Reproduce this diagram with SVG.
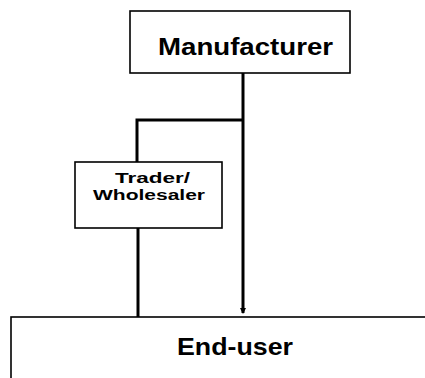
<svg xmlns="http://www.w3.org/2000/svg" width="425" height="378" viewBox="0 0 425 378">
<style>
.box{fill:#fff;stroke:#000;stroke-width:1.6}
.t{font-family:"Liberation Sans",Arial,sans-serif;font-weight:bold;fill:#000}
.c{fill:none;stroke:#000;stroke-width:3}
</style>
<defs>
<marker id="ah" markerWidth="6" markerHeight="6" refX="5" refY="3" orient="auto" markerUnits="userSpaceOnUse">
<path d="M0,0 L6,3 L0,6 z" fill="#000"/>
</marker>
</defs>
<rect width="425" height="378" fill="#fff"/>
<g id="connectors">
<polyline class="c" points="243,73 243,313" marker-end="url(#ah)"/>
<polyline class="c" points="243,120 137,120 137,162"/>
<line class="c" x1="138" y1="228" x2="138" y2="317"/>
</g>
<g id="manufacturer">
<rect class="box" x="130" y="11" width="220" height="62"/>
<text class="t" x="158" y="55" font-size="24" textLength="175" lengthAdjust="spacingAndGlyphs">Manufacturer</text>
</g>
<g id="trader">
<rect class="box" x="75" y="162" width="147" height="66"/>
<text class="t" x="115" y="183" font-size="14" textLength="75" lengthAdjust="spacingAndGlyphs">Trader/</text>
<text class="t" x="93" y="200" font-size="14" textLength="112" lengthAdjust="spacingAndGlyphs">Wholesaler</text>
</g>
<g id="enduser">
<rect class="box" x="11" y="317" width="430" height="80"/>
<text class="t" x="177" y="355" font-size="24" textLength="116" lengthAdjust="spacingAndGlyphs">End-user</text>
</g>
</svg>
